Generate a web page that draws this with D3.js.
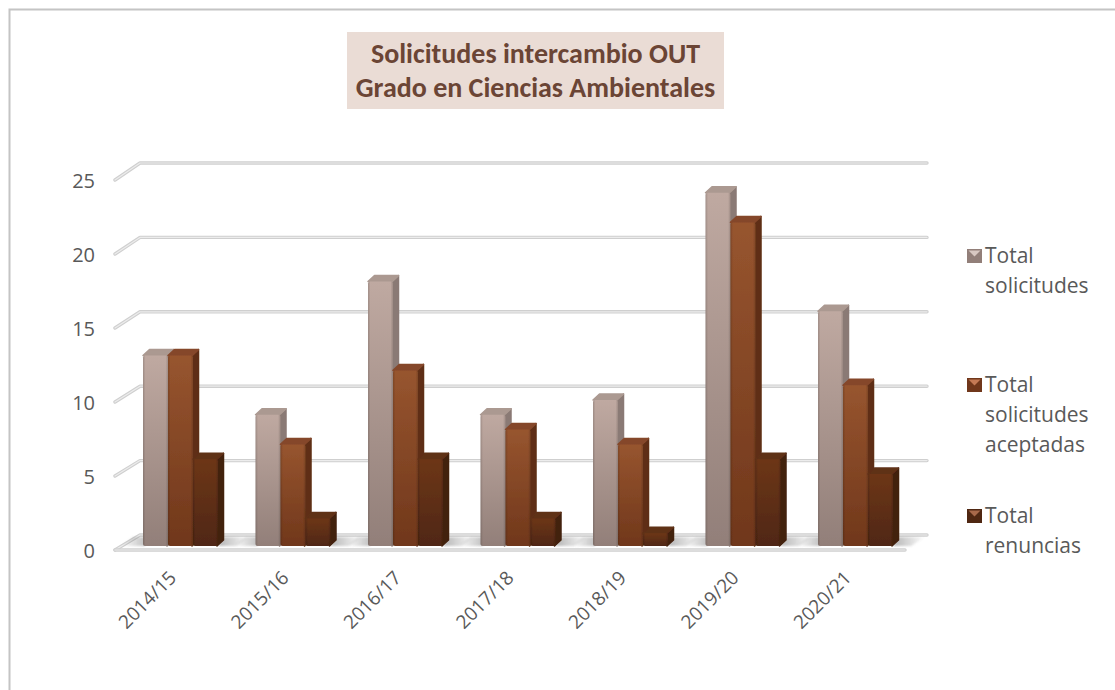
<!DOCTYPE html>
<html><head><meta charset="utf-8">
<script src="https://cdn.jsdelivr.net/npm/d3@7/dist/d3.min.js"></script>
<style>html,body{margin:0;padding:0;background:#fff}svg{display:block}</style></head>
<body><svg id="c" width="1115" height="690"></svg>
<script>
const categories=["2014/15","2015/16","2016/17","2017/18","2018/19","2019/20","2020/21"];
const solicitudes=[13,9,18,9,10,24,16];
const aceptadas=[13,7,12,8,7,22,11];
const renuncias=[6,2,6,2,1,6,5];
const yTicks=[0,5,10,15,20,25];
const titleLines=["Solicitudes intercambio OUT","Grado en Ciencias Ambientales"];
const seriesNames=[["Total","solicitudes"],["Total","solicitudes","aceptadas"],["Total","renuncias"]];
const seriesValues=[solicitudes,aceptadas,renuncias];
const palette=[
 {top:"#ab9991",a:"#bfa9a1",b:"#927f79",side:"#8a7a74",mark:"#d8c8c2"},
 {top:"#85472a",a:"#97552f",b:"#70371b",side:"#5e2f16",mark:"#c47a55"},
 {top:"#5f3018",a:"#6d3619",b:"#4f2712",side:"#43200f",mark:"#a8694a"}];

const svg=d3.select("#c");
const defs=svg.append("defs");
palette.forEach((p,i)=>{
  const g=defs.append("linearGradient").attr("id","g"+i).attr("x1",0).attr("y1",0).attr("x2",0).attr("y2",1);
  g.append("stop").attr("offset",0).attr("stop-color",p.a);
  g.append("stop").attr("offset",1).attr("stop-color",p.b);
});
const edge=defs.append("linearGradient").attr("id","edge").attr("x1",0).attr("y1",0).attr("x2",1).attr("y2",0);
[[0,.16],[.1,0],[.9,0],[1,.16]].forEach(s=>edge.append("stop").attr("offset",s[0]).attr("stop-color","#000").attr("stop-opacity",s[1]));
const shR=defs.append("linearGradient").attr("id","shR").attr("x1",0).attr("y1",0).attr("x2",1).attr("y2",0);
[[0,.55],[1,0]].forEach(s=>shR.append("stop").attr("offset",s[0]).attr("stop-color","#777").attr("stop-opacity",s[1]));
const shL=defs.append("linearGradient").attr("id","shL").attr("x1",0).attr("y1",0).attr("x2",1).attr("y2",0);
[[0,0],[1,.45]].forEach(s=>shL.append("stop").attr("offset",s[0]).attr("stop-color","#777").attr("stop-opacity",s[1]));
defs.append("filter").attr("id","soft").attr("x","-5%").attr("y","-5%").attr("width","110%").attr("height","110%")
  .append("feGaussianBlur").attr("stdDeviation",0.6);
defs.append("filter").attr("id","shadow").attr("x","-10%").attr("y","-100%").attr("width","120%").attr("height","300%")
  .append("feGaussianBlur").attr("stdDeviation",1);

// frame (open on the right and at the bottom)
svg.append("path").attr("d","M9.5,690V9.5H1115").attr("fill","none").attr("stroke","#c4c4c4").attr("stroke-width",2);

// title
svg.append("rect").attr("x",347).attr("y",32).attr("width",377).attr("height",77).attr("fill","#eadcd5");
svg.append("g").selectAll("text").data(titleLines).join("text")
  .attr("x",535.5).attr("y",(d,i)=>63+i*34).attr("text-anchor","middle")
  .attr("font-family","Carlito, Lato, sans-serif").attr("font-weight",700).attr("font-size",28).attr("fill","#6b4535").text(d=>d);

// scales
const yBack=d3.scaleLinear().domain([0,25]).range([535,163]);
const yFront=d3.scaleLinear().domain([0,25]).range([550,180]);
const yBar=d3.scaleLinear().domain([0,25]).range([548,178]);
const x=d3.scaleBand().domain(categories).range([124.25,911.75]).paddingInner(1/3).paddingOuter(1/6);
const xs=d3.scaleBand().domain([0,1,2]).range([0,x.bandwidth()]);
const xFront=115,xBack=140,xRight=927,xFloorFront=905;

// gridlines
const line=(sel,d)=>{
  sel.append("path").attr("d",d).attr("fill","none").attr("stroke","#cfcfcf").attr("stroke-width",3.4).attr("stroke-linecap","round").attr("stroke-linejoin","round");
  sel.append("path").attr("d",d).attr("fill","none").attr("stroke","#ececec").attr("stroke-width",1.2).attr("stroke-linecap","round").attr("stroke-linejoin","round");
};
const grid=svg.append("g").attr("filter","url(#soft)");
yTicks.forEach(t=>{
  line(grid,`M${xFront},${yFront(t)}L${xBack},${yBack(t)}H${xRight}`);
});
line(grid,`M${xFront},${yFront(0)}H${xFloorFront}`);

// floor shadows
const shadows=svg.append("g").attr("filter","url(#shadow)");
const baseY=yBar(0)-2;
categories.forEach(c=>{
  const right=x(c)+x.bandwidth();
  shadows.append("path").attr("d",`M${right},${baseY}L${right+6},${baseY-9}H${right+32}L${right+18},${baseY}Z`).attr("fill","url(#shR)");
  shadows.append("path").attr("d",`M${x(c)-22},${baseY}L${x(c)-10},${baseY-9}H${x(c)+2}V${baseY}Z`).attr("fill","url(#shL)");
});

// bars
const bars=svg.append("g").attr("filter","url(#soft)");
const dx=6.5,dy=6;
function drawBar(g,bx,w,top,bottom,p,i){
  const r=bx+w-1;
  g.append("path").attr("d",`M${r},${top}L${r+dx},${top-dy}V${bottom-dy}L${r},${bottom}Z`).attr("fill",p.side).attr("stroke",p.side).attr("stroke-width",1.5).attr("stroke-linejoin","round");
  g.append("path").attr("d",`M${bx},${top}L${bx+dx},${top-dy}H${r+dx}L${r},${top}Z`).attr("fill",p.top).attr("stroke",p.top).attr("stroke-width",1.5).attr("stroke-linejoin","round");
  g.append("rect").attr("x",bx).attr("y",top).attr("width",w).attr("height",bottom-top).attr("rx",2).attr("fill",`url(#g${i})`);
  g.append("rect").attr("x",bx).attr("y",top).attr("width",w).attr("height",bottom-top).attr("rx",2).attr("fill","url(#edge)");
}
categories.forEach((c,ci)=>{
  seriesValues.forEach((vals,i)=>{
    drawBar(bars,x(c)+xs(i),xs.bandwidth(),yBar(vals[ci]),baseY,palette[i],i);
  });
});

// y labels
svg.append("g").selectAll("text").data(yTicks).join("text")
  .attr("x",95).attr("y",d=>yFront(d)+8).attr("text-anchor","end")
  .attr("font-family","'Open Sans',sans-serif").attr("font-size",20).attr("fill","#595959").text(d=>d);

// x labels
svg.append("g").selectAll("text").data(categories).join("text")
  .attr("text-anchor","end")
  .attr("transform",d=>`translate(${x(d)+x.bandwidth()/2-3},579) rotate(-45)`)
  .attr("font-family","'Open Sans',sans-serif").attr("font-size",19).attr("fill","#595959").text(d=>d);

// legend
const legendTop=[263,392,523];
const lg=svg.append("g");
seriesNames.forEach((lines,i)=>{
  const p=palette[i],g=lg.append("g");
  g.append("rect").attr("x",967).attr("y",legendTop[i]-14).attr("width",15).attr("height",14).attr("fill",p.b);
  g.append("path").attr("d",`M968.5,${legendTop[i]-12.5}H980.5L974.5,${legendTop[i]-6.5}Z`).attr("fill",p.mark);
  g.selectAll("text").data(lines).join("text")
    .attr("x",985).attr("y",(d,j)=>legendTop[i]+j*30)
    .attr("font-family","'Open Sans',sans-serif").attr("font-size",21).attr("fill","#595959").text(d=>d);
});
</script></body></html>
